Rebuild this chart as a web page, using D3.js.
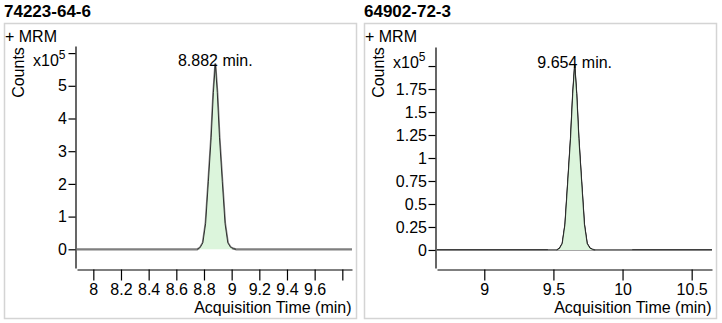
<!DOCTYPE html>
<html><head><meta charset="utf-8">
<script src="https://cdn.jsdelivr.net/npm/d3@7"></script>
<style>
body{margin:0;background:#fff;}
svg text{font-family:"Liberation Sans",Arial,sans-serif;fill:#000;}
</style>
</head><body>
<svg id="c" width="722" height="323"></svg>
<script>
// ---------- data ----------
const titles = ["74223-64-6", "64902-72-3"];
const peakLabels = ["8.882 min.", "9.654 min."];
const modeLabel = "+ MRM";
const yAxisTitle = "Counts";
const xAxisTitle = "Acquisition Time (min)";

// Panel 1 chromatogram (time in min, counts in x10^5)
const times1 = [7.882, 8.700, 8.752, 8.772, 8.792, 8.812, 8.832, 8.852, 8.868, 8.882, 8.896, 8.912, 8.932, 8.952, 8.972, 8.992, 9.012, 9.030, 9.200, 9.870];
const counts1 = [0, 0, 0, 0.05, 0.20, 0.79, 2.08, 3.41, 4.79, 5.66, 4.79, 3.41, 2.08, 0.79, 0.20, 0.06, 0.02, 0, 0, 0];
// Panel 2 chromatogram
const times2 = [8.658, 9.450, 9.524, 9.544, 9.564, 9.584, 9.604, 9.624, 9.640, 9.654, 9.668, 9.684, 9.704, 9.724, 9.744, 9.764, 9.784, 9.802, 10.100, 10.647];
const counts2 = [0, 0, 0, 0.017, 0.07, 0.28, 0.74, 1.21, 1.70, 2.01, 1.70, 1.21, 0.74, 0.28, 0.07, 0.02, 0.005, 0, 0, 0];
// integrated peak ranges (min)
const peakRange1 = [8.752, 9.030];
const peakRange2 = [9.524, 9.802];
// integration baseline segment drawn in grey on panel 2
const baseSeg2 = [9.460, 10.070];

// axis ticks
const xTicks1 = [8, 8.2, 8.4, 8.6, 8.8, 9, 9.2, 9.4, 9.6, 9.8];
const xTickLabels1 = ["8", "8.2", "8.4", "8.6", "8.8", "9", "9.2", "9.4", "9.6", ""];
const yTicks1 = [0, 1, 2, 3, 4, 5, 6];
const yTickLabels1 = ["0", "1", "2", "3", "4", "5", ""];
const xTicks2 = [9, 9.5, 10, 10.5];
const xTickLabels2 = ["9", "9.5", "10", "10.5"];
const yTicks2 = [0, 0.25, 0.5, 0.75, 1, 1.25, 1.5, 1.75, 2];
const yTickLabels2 = ["0", "0.25", "0.5", "0.75", "1", "1.25", "1.5", "1.75", ""];

const xDomain1 = [7.882, 9.870], yDomain1 = [-0.572, 6.217];
const xDomain2 = [8.658, 10.647], yDomain2 = [-0.196, 2.207];

// ---------- drawing ----------
const svg = d3.select("#c");

function panel(o) {
  const g = svg.append("g").attr("transform", `translate(${o.dx},0)`);
  // frame
  g.append("rect").attr("x", 4.5).attr("y", 23.5).attr("width", 352).attr("height", 295)
    .attr("fill", "none").attr("stroke", "#d4d4d4").attr("stroke-width", 1.5);
  g.append("text").attr("x", 4).attr("y", 16.5).attr("font-size", 17).attr("font-weight", "bold")
    .attr("fill", "#222").text(o.title);
  g.append("text").attr("x", 5).attr("y", 41.5).attr("font-size", 16).text(modeLabel);

  const x = d3.scaleLinear().domain(o.xDomain).range([77, 352]);
  const y = d3.scaleLinear().domain(o.yDomain).range([268, o.yTop]);

  // axes
  const ya = g.append("g").attr("transform", "translate(75.5,0)")
    .call(d3.axisLeft(y).tickValues(o.yTicks).tickSize(7).tickSizeOuter(0).tickPadding(1.5)
      .tickFormat((d, i) => o.yTickLabels[i]));
  const xa = g.append("g").attr("transform", "translate(0,269.5)")
    .call(d3.axisBottom(x).tickValues(o.xTicks).tickSize(11).tickSizeOuter(0).tickPadding(3.5)
      .tickFormat((d, i) => o.xTickLabels[i]));
  [ya, xa].forEach(a => {
    a.attr("font-size", 16).attr("font-family", null);
    a.selectAll("path,line").attr("stroke", "#000").attr("stroke-width", 1.2);
    a.selectAll("text").attr("fill", "#000");
  });

  // multiplier label
  const m = g.append("text").attr("x", 33).attr("y", o.multY).attr("font-size", 16);
  m.append("tspan").text("x10");
  m.append("tspan").attr("dy", -7).attr("font-size", 12).text("5");

  // axis titles
  g.append("text").attr("transform", "translate(24,72.5) rotate(-90)").attr("text-anchor", "middle")
    .attr("font-size", 16).text(yAxisTitle);
  g.append("text").attr("x", 351.5).attr("y", 313).attr("text-anchor", "end")
    .attr("font-size", 16).text(xAxisTitle);

  const pts = o.times.map((t, i) => [t, o.counts[i]]);
  const inPeak = pts.filter(p => p[0] >= o.peakRange[0] && p[0] <= o.peakRange[1]);

  // chromatogram line
  g.append("path").datum(pts)
    .attr("d", d3.line().x(d => x(d[0])).y(d => y(d[1])))
    .attr("fill", "none").attr("stroke", o.lineColor).attr("stroke-width", o.lineWidth)
    .attr("stroke-linejoin", "round");
  if (o.baseSeg) {
    g.append("path").datum(o.baseSeg)
      .attr("d", d3.line().x(d => x(d)).y(() => y(0)))
      .attr("stroke", "#8a8a8a").attr("stroke-width", 1.6);
  }
  // integrated peak
  g.append("path").datum(inPeak)
    .attr("d", d3.area().x(d => x(d[0])).y0(y(0)).y1(d => y(d[1])))
    .attr("fill", "#dcf5dc").attr("stroke", "none");
  g.append("path").datum(inPeak)
    .attr("d", d3.line().x(d => x(d[0])).y(d => y(d[1])))
    .attr("fill", "none").attr("stroke", "#222").attr("stroke-width", 0.9)
    .attr("stroke-linejoin", "round");

  // peak label
  const apex = pts.reduce((a, b) => (b[1] > a[1] ? b : a));
  g.append("text").attr("x", x(apex[0])).attr("y", o.labelY).attr("text-anchor", "middle")
    .attr("font-size", 16).text(o.peakLabel);
}

panel({dx: 0, title: titles[0], peakLabel: peakLabels[0], times: times1, counts: counts1,
  peakRange: peakRange1, xDomain: xDomain1, yDomain: yDomain1, yTop: 46,
  xTicks: xTicks1, xTickLabels: xTickLabels1, yTicks: yTicks1, yTickLabels: yTickLabels1,
  lineColor: "#7f7f7f", lineWidth: 2.2, multY: 66, labelY: 66});
panel({dx: 360, title: titles[1], peakLabel: peakLabels[1], times: times2, counts: counts2,
  peakRange: peakRange2, xDomain: xDomain2, yDomain: yDomain2, yTop: 47,
  xTicks: xTicks2, xTickLabels: xTickLabels2, yTicks: yTicks2, yTickLabels: yTickLabels2,
  lineColor: "#000", lineWidth: 1.3, baseSeg: baseSeg2, multY: 68, labelY: 68});
</script>
</body></html>
